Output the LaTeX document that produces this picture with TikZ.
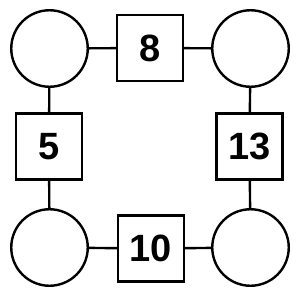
\documentclass[tikz,border=0pt]{standalone}
\usepackage{fontspec}
\setmainfont{Liberation Sans}
\begin{document}
\begin{tikzpicture}[x=1pt,y=-1pt,
  every node/.style={draw=black,line width=2.4pt,fill=white,inner sep=0pt},
  circ/.style={circle,minimum size=76.5pt},
  sq/.style={rectangle,minimum size=66pt,font=\fontsize{38}{40}\selectfont\bfseries},
  link/.style={line width=2.4pt}]
\useasboundingbox (0,0) rectangle (300,300);
\node[circ] (tl) at (49.5,48.5) {};
\node[circ] (tr) at (250.5,48.5) {};
\node[circ] (bl) at (49.5,247.5) {};
\node[circ] (br) at (250.5,247.5) {};
\node[sq] (t) at (150,48) {8};
\node[sq] (l) at (49,146.5) {5};
\node[sq] (r) at (249.5,146.5) {13};
\node[sq] (b) at (151,248.5) {10};
\draw[link] (tl) -- (t); \draw[link] (t) -- (tr);
\draw[link] (tl) -- (l); \draw[link] (l) -- (bl);
\draw[link] (tr) -- (r); \draw[link] (r) -- (br);
\draw[link] (bl) -- (b); \draw[link] (b) -- (br);
\end{tikzpicture}
\end{document}
